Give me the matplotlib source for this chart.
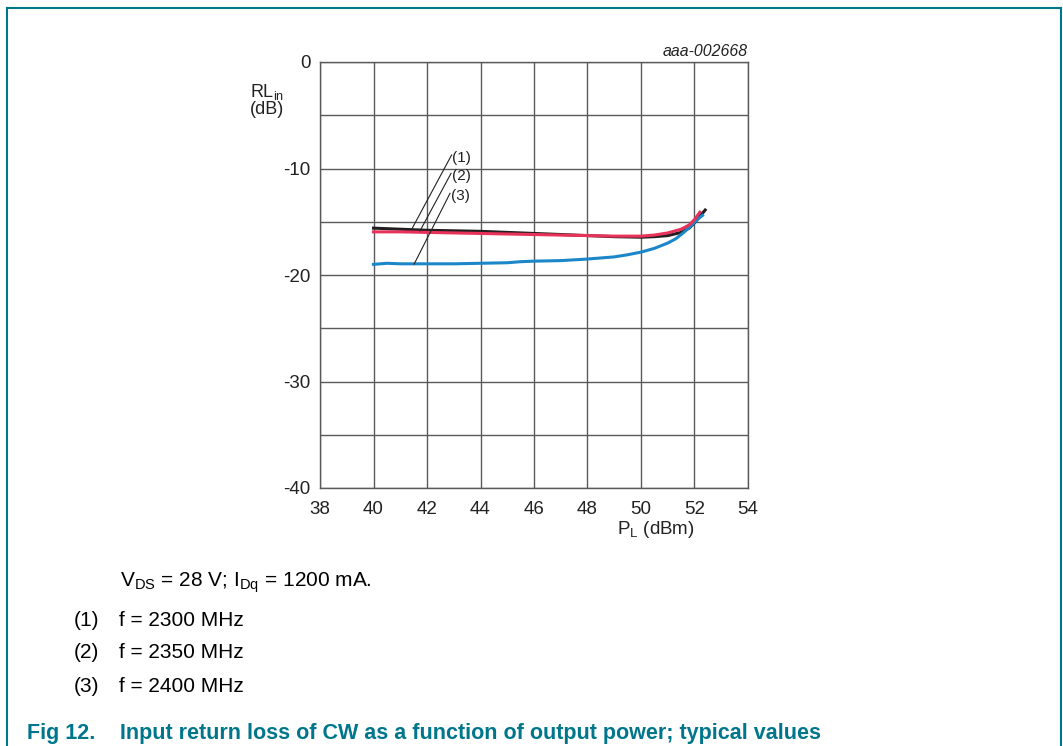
import matplotlib.pyplot as plt
from matplotlib.lines import Line2D

plt.rcParams['font.family'] = ['Liberation Sans', 'DejaVu Sans']
plt.rcParams['axes.unicode_minus'] = False

# curve data
p_2300 = [40, 41, 42, 43, 44, 45, 46, 47, 48, 49, 50, 50.5, 51, 51.5, 51.8, 52.0, 52.2, 52.4]
rl_2300 = [-15.6, -15.7, -15.8, -15.85, -15.9, -16.0, -16.1, -16.2, -16.3, -16.4, -16.45,
           -16.4, -16.3, -16.0, -15.6, -15.1, -14.5, -13.9]

p_2350 = [40, 41, 42, 43, 44, 45, 46, 47, 48, 49, 50, 50.5, 51, 51.5, 51.8, 52.0, 52.2]
rl_2350 = [-15.95, -15.95, -16.0, -16.05, -16.1, -16.15, -16.2, -16.25, -16.3, -16.35, -16.35,
           -16.25, -16.05, -15.7, -15.3, -14.8, -14.1]

p_2400 = [40, 40.5, 41, 42, 43, 44, 45, 45.5, 46, 47, 48, 49, 49.5, 50, 50.5, 51, 51.3,
          51.6, 51.9, 52.1, 52.3]
rl_2400 = [-19.0, -18.9, -18.95, -18.95, -18.95, -18.9, -18.85, -18.75, -18.7, -18.65, -18.5,
           -18.3, -18.1, -17.85, -17.5, -17.0, -16.6, -16.0, -15.3, -14.8, -14.4]

# leader lines: label point and curve end point
labels = ['(1)', '(2)', '(3)']
label_x = [42.92, 42.90, 42.86]
label_y = [-8.73, -10.45, -12.33]
end_x = [41.45, 41.74, 41.52]
end_y = [-15.6, -15.85, -18.97]

x_ticks = [38, 40, 42, 44, 46, 48, 50, 52, 54]
y_ticks = [0, -10, -20, -30, -40]

freqs = ['2300', '2350', '2400']

W, H = 1063, 746
fig = plt.figure(figsize=(W / 100, H / 100), dpi=100)
ax = fig.add_axes([320 / W, 1 - 488 / H, 428 / W, 426 / H])

grid_col = '#5a5a5a'
txt_col = '#222222'
ax.set_xlim(38, 54)
ax.set_ylim(-40, 0)
ax.set_xticks(x_ticks)
ax.set_yticks(y_ticks)
ax.set_yticks(range(-40, 1, 5), minor=True)
ax.grid(True, which='both', color=grid_col, linewidth=1.0)
ax.tick_params(which='both', length=0, labelsize=13.5, colors=txt_col)
ax.tick_params(axis='x', pad=9)
ax.tick_params(axis='y', pad=7)
for s in ax.spines.values():
    s.set_color(grid_col)
    s.set_linewidth(1.0)

ax.plot(p_2300, rl_2300, color='#231f20', linewidth=2.2, zorder=3)
ax.plot(p_2350, rl_2350, color='#e8325a', linewidth=2.2, zorder=4)
ax.plot(p_2400, rl_2400, color='#1b87c9', linewidth=2.2, zorder=3)

for lab, lx, ly, ex, ey in zip(labels, label_x, label_y, end_x, end_y):
    ax.plot([lx, ex], [ly, ey], color=txt_col, linewidth=0.8, zorder=5)
    ax.text(lx + 0.03, ly - 0.25, lab, fontsize=11, va='center', ha='left', color=txt_col)

fig.text(267 / W, 1 - 92 / H, 'RL$_{\\mathregular{in}}$', fontsize=13, ha='center',
         va='center', color=txt_col)
fig.text(267 / W, 1 - 109 / H, '(dB)', fontsize=13, ha='center', va='center', color=txt_col)
fig.text(617 / W, 1 - 529 / H, 'P$_{\\mathregular{L}}$ (dBm)', fontsize=13.5, ha='left',
         va='center', color=txt_col)
fig.text(748 / W, 1 - 51 / H, 'aaa-002668', fontsize=11.4, style='italic', ha='right',
         va='center', color=txt_col)

# caption block
fig.text(120 / W, 1 - 583 / H,
         'V$_{\\mathregular{DS}}$ = 28 V; I$_{\\mathregular{Dq}}$ = 1200 mA.',
         fontsize=15, va='center', ha='left')
for i, f in enumerate(freqs):
    y = 1 - (620 + 33 * i) / H
    fig.text(74 / W, y, '(%d)' % (i + 1), fontsize=15, va='center', ha='left')
    fig.text(119 / W, y, 'f = %s MHz' % f, fontsize=15, va='center', ha='left')

teal = '#00768c'
fig.text(27 / W, 1 - 733 / H, 'Fig 12.', fontsize=15.5, fontweight='bold', color=teal,
         va='center', ha='left')
fig.text(120 / W, 1 - 733 / H,
         'Input return loss of CW as a function of output power; typical values',
         fontsize=15.5, fontweight='bold', color=teal, va='center', ha='left')

# frame around figure
fig.add_artist(Line2D([7 / W, 7 / W], [0, 1 - 8 / H], color=teal, linewidth=1.5))
fig.add_artist(Line2D([7 / W, 1061 / W], [1 - 8 / H, 1 - 8 / H], color=teal, linewidth=1.5))
fig.add_artist(Line2D([1061 / W, 1061 / W], [0, 1 - 8 / H], color=teal, linewidth=1.5))

fig.savefig('out.png', dpi=100)
